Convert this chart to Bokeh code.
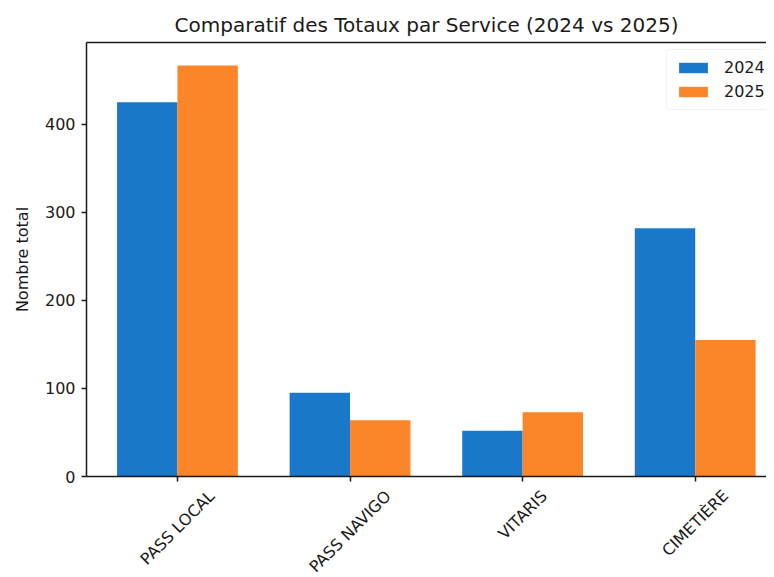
import numpy as np
from bokeh.plotting import figure
from bokeh.layouts import column
from bokeh.models import (ColumnDataSource, FixedTicker, Range1d, LinearAxis, Legend, LegendItem,
                          CustomJSTickFormatter)
from bokeh.core.properties import value
from bokeh.embed import file_html
from bokeh.resources import INLINE

categories = ["PASS LOCAL", "PASS NAVIGO", "VITARIS", "CIMETIÈRE"]
series_names = ["2024", "2025"]
values_2024 = [425, 95, 52, 282]
values_2025 = [467, 64, 73, 155]
y_ticks = [0, 100, 200, 300, 400]

colors = ["#1a77c9", "#fb8529"]
bar_w = 0.35
FONT = "DejaVu Sans"
LBL = 16  # px, category label size
AX_BOTTOM = 10   # px kept under the frame of the main plot
STRIP_H = 91     # px height of the label strip below

# approximate DejaVu Sans advance widths (em) to centre the rotated labels like matplotlib
W = {"P": .603, "A": .684, "S": .635, " ": .318, "L": .557, "O": .787, "C": .698,
     "N": .748, "V": .684, "I": .295, "G": .770, "T": .611, "R": .695, "M": .863,
     "E": .632, "È": .632}

def label_drop(txt, f=LBL, pad=10):
    L = sum(W.get(ch, .65) for ch in txt) * f
    h = 1.1 * f
    return pad + (L + h) * np.sin(np.pi / 4) / 2

idx = np.arange(len(categories))
src = ColumnDataSource(dict(
    x24=idx - bar_w / 2, x25=idx + bar_w / 2,
    v24=values_2024, v25=values_2025,
))
lab_src = ColumnDataSource(dict(
    x=idx, y=[-(label_drop(c) - AX_BOTTOM) for c in categories], text=categories,
))

p = figure(width=766, height=476 + AX_BOTTOM, output_backend="svg", toolbar_location=None,
           x_range=Range1d(-0.527, 3.413), y_range=Range1d(0, 493),
           title="Comparatif des Totaux par Service (2024 vs 2025)",
           min_border_left=86, min_border_right=0, min_border_top=42, min_border_bottom=AX_BOTTOM)

r1 = p.vbar(x="x24", top="v24", width=bar_w, source=src, fill_color=colors[0], line_color=None)
r2 = p.vbar(x="x25", top="v25", width=bar_w, source=src, fill_color=colors[1], line_color=None)

p.title.align = "center"
p.title.text_font = FONT
p.title.text_font_size = "20px"
p.title.text_font_style = "normal"
p.title.text_color = "#1a1a1a"
p.title.offset = 44
p.title.standoff = 12

p.xgrid.visible = False
p.ygrid.visible = False
p.outline_line_color = None

p.xaxis.ticker = FixedTicker(ticks=list(idx))
p.xaxis.formatter = CustomJSTickFormatter(code="return ''")
p.xaxis.major_label_standoff = 0
p.xaxis.minor_tick_line_color = None
p.yaxis.ticker = FixedTicker(ticks=y_ticks)
p.yaxis.minor_tick_line_color = None
p.yaxis.axis_label = "Nombre total"

for ax in (p.xaxis[0], p.yaxis[0]):
    ax.axis_line_color = "#1a1a1a"
    ax.axis_line_width = 1.5
    ax.major_tick_line_color = "#1a1a1a"
    ax.major_tick_line_width = 1.5
    ax.major_tick_out = 5
    ax.major_tick_in = 0
p.yaxis.major_label_text_font = FONT
p.yaxis.major_label_text_font_size = "16px"
p.yaxis.major_label_text_color = "#1a1a1a"
p.yaxis.major_label_standoff = 6
p.yaxis.axis_label_text_font = FONT
p.yaxis.axis_label_text_font_size = "16px"
p.yaxis.axis_label_text_font_style = "normal"
p.yaxis.axis_label_text_color = "#1a1a1a"
p.yaxis.axis_label_standoff = 10

top_axis = LinearAxis(ticker=FixedTicker(ticks=[]), formatter=CustomJSTickFormatter(code="return ''"),
                      axis_line_color="#1a1a1a", axis_line_width=1.5,
                      major_tick_line_color=None, minor_tick_line_color=None)
p.add_layout(top_axis, "above")

legend = Legend(items=[LegendItem(label=series_names[0], renderers=[r1]),
                       LegendItem(label=series_names[1], renderers=[r2])],
                location=(580, 366))
legend.label_text_font = FONT
legend.label_text_font_size = "16px"
legend.label_text_color = "#1a1a1a"
legend.glyph_width = 36
legend.glyph_height = 13
legend.label_standoff = 13
legend.spacing = 5
legend.padding = 8
legend.margin = 0
legend.border_line_color = "#e6e6e6"
legend.border_radius = 4
legend.background_fill_alpha = 0.9
p.add_layout(legend)

# strip under the main plot holding the rotated category labels (1 data unit = 1 px vertically)
p2 = figure(width=766, height=STRIP_H, output_backend="svg", toolbar_location=None,
            x_range=p.x_range, y_range=Range1d(-STRIP_H, 0),
            x_axis_type=None, y_axis_type=None,
            min_border_left=86, min_border_right=0, min_border_top=0, min_border_bottom=0)
p2.xgrid.visible = False
p2.ygrid.visible = False
p2.outline_line_color = None
p2.text(x="x", y="y", text="text", source=lab_src, angle=np.pi / 4,
        text_align="center", text_baseline="middle",
        text_font=value(FONT), text_font_size=f"{LBL}px", text_color="#1a1a1a")

layout = column(p, p2, spacing=0)
open("out.html", "w").write(file_html(layout, INLINE))
